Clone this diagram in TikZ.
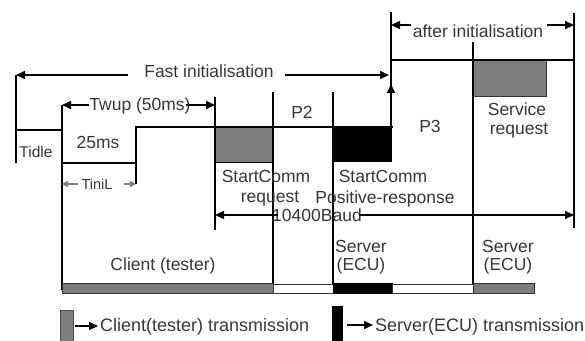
\documentclass[tikz,border=0pt]{standalone}
\usepackage{fontspec}
\setmainfont{Liberation Sans}
\usetikzlibrary{arrows.meta}
\definecolor{txt}{RGB}{55,55,55}
\definecolor{cgray}{RGB}{125,125,125}
\tikzset{
  lbl/.style={font=\fontsize{17.5}{19}\selectfont, text=txt, inner sep=0pt, anchor=base},
  smalllbl/.style={font=\fontsize{14.5}{16}\selectfont, text=txt, inner sep=0pt, anchor=base},
  leglbl/.style={font=\fontsize{18}{20}\selectfont, text=txt, inner sep=0pt, anchor=base west},
  sig/.style={line width=1.4pt, black},
  vline/.style={line width=1.4pt, black},
  dim/.style={line width=1.6pt, -{Triangle[length=9pt,width=8pt]}},
  tinydim/.style={line width=1.2pt, draw=cgray, -{Triangle[length=6pt,width=6pt]}},
  cbox/.style={fill=cgray, draw=black!80, line width=0.8pt},
  sbox/.style={fill=black, draw=black, line width=0.8pt},
  ebox/.style={fill=white, draw=black!80, line width=0.7pt},
}
\begin{document}
\begin{tikzpicture}[x=1pt,y=-1pt]
\useasboundingbox (0,0) rectangle (585,340);
\fill[white] (0,0) rectangle (585,340);

% time points
\coordinate (a0) at (16,75);
\coordinate (a1) at (62,105);
\coordinate (a2) at (136,127);
\coordinate (a3) at (215,97);
\coordinate (a4) at (273,92);
\coordinate (a5) at (333,92);
\coordinate (a6) at (391,12);
\coordinate (a7) at (473,42);
\coordinate (a8) at (574,13);

% transmission boxes
\fill[cgray] (215,127) rectangle (273,162);
\fill[black] (333,127) rectangle (392,162);
\draw[cbox] (473,60) rectangle (546,96);
\draw[line width=0.8pt] (215,162) -- (273,162);

% signal
\draw[sig] (16,130) -- (62,130);
\draw[sig] (62,163) -- (136,163) -- (136,127) -- (393,127);
\draw[sig] (391,60) -- (574,60);

% vertical lines
\draw[vline] (a0) -- (16,163);
\draw[vline] (a1) -- (62,290);
\draw[vline] (a2) -- (136,184);
\draw[vline] (a3) -- (215,230);
\draw[vline] (a4) -- (273,290);
\draw[vline] (a5) -- (333,290);
\draw[vline] (a6) -- (391,162);
\draw[vline] (a7) -- (473,290);
\draw[vline] (a8) -- (574,228);
\draw[dim] (391,162) -- (391,84);

% bottom bar
\draw[cbox] (62,283) rectangle (273,293);
\draw[ebox] (273,284) rectangle (333,293);
\draw[sbox] (333,283) rectangle (392,293);
\draw[ebox] (392,284) rectangle (473,293);
\draw[cbox] (473,283) rectangle (534,293);

% labels
\node[lbl] (fast) at (209,77) {Fast initialisation};
\node[lbl] (twup) at (140,110) {Twup (50ms)};
\node[lbl] (t25) at (98,148) {25ms};
\node[smalllbl, font=\fontsize{15.5}{17}\selectfont] (tidle) at (36,157) {Tidle};
\node[smalllbl] (tinil) at (97,189) {TiniL};
\node[lbl] (p2) at (302,118) {P2};
\node[lbl] (p3) at (430,132) {P3};
\node[lbl] (sc1) at (266,182) {StartComm};
\node[lbl] (rq1) at (270,202) {request};
\node[lbl] (sc2) at (383,182) {StartComm};
\node[lbl] (pr) at (385,203) {Positive-response};
\node[lbl] (baud) at (317,221) {10400Baud};
\node[lbl] (srv1) at (361,252) {Server};
\node[lbl] (ecu1) at (361,270) {(ECU)};
\node[lbl] (srv2) at (508,252) {Server};
\node[lbl] (ecu2) at (508,270) {(ECU)};
\node[lbl] (client) at (163,270) {Client (tester)};
\node[lbl] (serv) at (517,115) {Service};
\node[lbl] (rq2) at (519,134) {request};
\node[lbl] (after) at (478,37) {after initialisation};

% dimension arrows
\coordinate (f0) at (16,75);
\coordinate (f1) at (389,75);
\draw[dim] (128,75) -- (f0);
\draw[dim] (285,75) -- (f1);
\coordinate (w0) at (62,105);
\coordinate (w1) at (215,105);
\draw[dim] (89,105) -- (w0);
\draw[dim] (186,105) -- (w1);
\coordinate (b0) at (215,215);
\coordinate (b1) at (574,215);
\draw[dim] (278,215) -- (b0);
\draw[dim] (359,215) -- (b1);
\coordinate (e0) at (391,25);
\coordinate (e1) at (574,25);
\draw[dim] (411,25) -- (e0);
\draw[dim] (547,25) -- (e1);
\coordinate (n0) at (62,184);
\coordinate (n1) at (136,184);
\draw[tinydim] (78,184) -- (n0);
\draw[tinydim] (124,184) -- (n1);

% legend
\draw[fill=cgray, draw=black!70, line width=0.8pt] (60,310) rectangle (73,341);
\draw[dim] (75,326) -- (98,326);
\node[leglbl] (lg1) at (100,331) {Client(tester) transmission};
\fill[black] (332,306) rectangle (343,341);
\draw[dim] (347,325) -- (373,325);
\node[leglbl] (lg2) at (375,331) {Server(ECU) transmission};
\end{tikzpicture}
\end{document}
